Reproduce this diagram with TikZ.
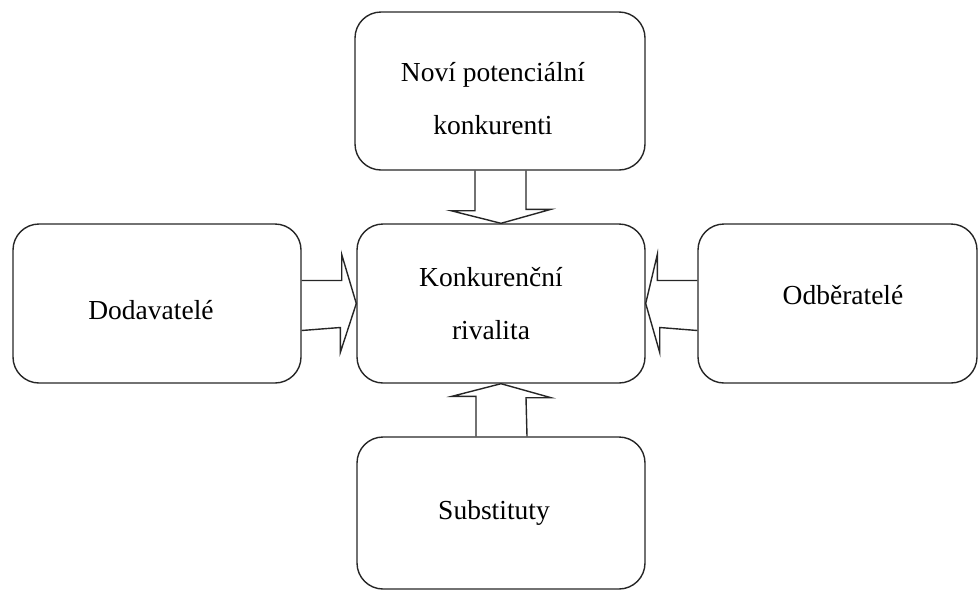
\documentclass[tikz,border=0pt]{standalone}
\usepackage{fontspec}
\setmainfont{Liberation Serif}
\usetikzlibrary{calc}
\tikzset{
  box/.style={draw=black!85, line width=1.4pt, rounded corners=26pt, inner sep=0pt},
  txt/.style={align=center, inner sep=0pt, font=\fontsize{27.5}{53}\selectfont},
  blockarrow/.style={draw=black!85, line width=1.4pt, line join=miter}
}
\begin{document}
\begin{tikzpicture}[x=1pt, y=-1pt]
\useasboundingbox (0,0) rectangle (979,592);
% boxes
\node[box, minimum width=290pt, minimum height=158pt] (top) at (500,91) {};
\node[box, minimum width=288pt, minimum height=159pt] (mid) at (501,303.5) {};
\node[box, minimum width=288pt, minimum height=159pt] (left) at (157,303.5) {};
\node[box, minimum width=279pt, minimum height=159pt] (right) at (837.5,303.5) {};
\node[box, minimum width=288pt, minimum height=152pt] (bot) at (501,513) {};
% texts
\node[txt] (ttop) at (493,99) {Noví potenciální\\konkurenti};
\node[txt] (tmid) at (491,304) {Konkurenční\\rivalita};
\node[txt] (tleft) at (151,310) {Dodavatelé};
\node[txt] (tright) at (843,295) {Odběratelé};
\node[txt] (tbot) at (494,513) {Substituty};
% block arrows
\draw[blockarrow] ($(top.south)+(-25,0)$) -- ++(0,40) -- ++(-24,0) -- (mid.north) -- ($(mid.north)+(50,-14)$) -- ++(-25,0) -- ($(top.south)+(26,0)$);
\draw[blockarrow] ($(bot.north)+(-25,0)$) -- ++(0,-40) -- ++(-24,0) -- (mid.south) -- ($(mid.south)+(50,14)$) -- ++(-25,0) -- ($(bot.north)+(26,0)$);
\draw[blockarrow] ($(left.east)+(0,-23)$) -- ++(40,0) -- ++(0,-26) -- (mid.west) -- ($(mid.west)+(-16,49)$) -- ++(0,-25) -- ($(left.east)+(0,27)$);
\draw[blockarrow] ($(right.west)+(0,-23)$) -- ++(-40,0) -- ++(0,-26) -- (mid.east) -- ($(mid.east)+(14,49)$) -- ++(0,-25) -- ($(right.west)+(0,27)$);
\end{tikzpicture}
\end{document}
